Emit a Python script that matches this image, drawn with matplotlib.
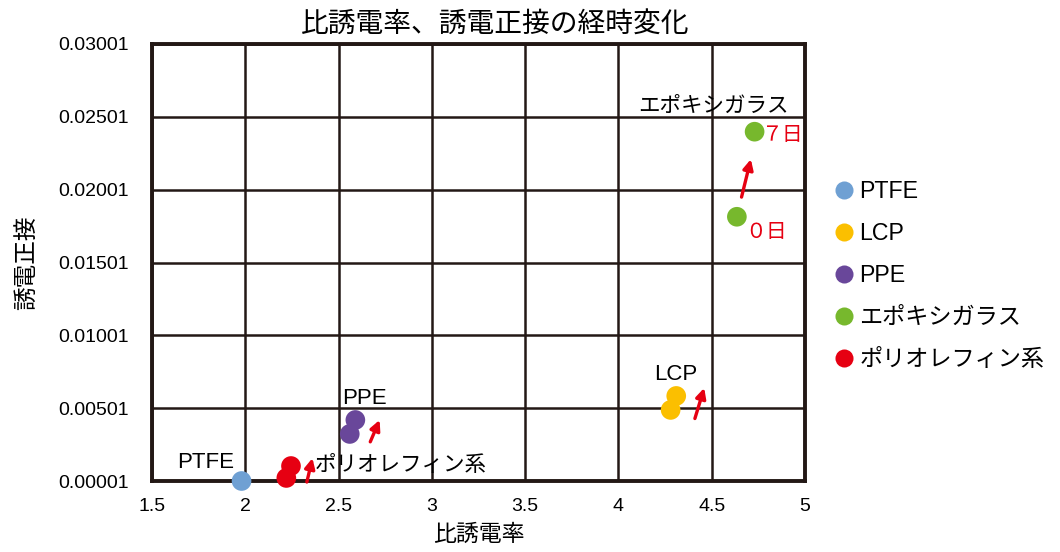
import matplotlib
matplotlib.use("Agg")
import matplotlib.pyplot as plt
from matplotlib.lines import Line2D

plt.rcParams['font.family'] = ['Liberation Sans', 'Noto Sans CJK JP', 'DejaVu Sans']

# data: (比誘電率, 誘電正接) at 0日 and 7日
names = ["PTFE", "LCP", "PPE", "エポキシガラス", "ポリオレフィン系"]
colors = ["#6fa0d3", "#fbbf00", "#69479a", "#77b82d", "#e60012"]
ptfe_x = [1.98]
ptfe_y = [0.00001]
lcp_x = [4.28, 4.31]
lcp_y = [0.00489, 0.00585]
ppe_x = [2.56, 2.59]
ppe_y = [0.00324, 0.00420]
epoxy_x = [4.635, 4.73]
epoxy_y = [0.01815, 0.02399]
poly_x = [2.22, 2.245]
poly_y = [0.00022, 0.00104]

series_x = [ptfe_x, lcp_x, ppe_x, epoxy_x, poly_x]
series_y = [ptfe_y, lcp_y, ppe_y, epoxy_y, poly_y]

xticks = [1.5, 2, 2.5, 3, 3.5, 4, 4.5, 5]
xtick_labels = ["1.5", "2", "2.5", "3", "3.5", "4", "4.5", "5"]
yticks = [0.00001, 0.00501, 0.01001, 0.01501, 0.02001, 0.02501, 0.03001]
ytick_labels = ["0.00001", "0.00501", "0.01001", "0.01501", "0.02001", "0.02501", "0.03001"]

# arrows (tail -> head) showing change over time
arrows = [((2.33, -0.00006), (2.36, 0.00158)),
          ((2.67, 0.00270), (2.72, 0.00420)),
          ((4.41, 0.00430), (4.46, 0.00640)),
          ((4.66, 0.01950), (4.71, 0.02210))]

fig = plt.figure(figsize=(10.6, 5.52), dpi=100)
ax = fig.add_axes([0.1434, 0.1286, 0.616, 0.7917])

for x, y, c in zip(series_x, series_y, colors):
    ax.scatter(x, y, s=200, color=c, edgecolors='none', zorder=5, clip_on=False)

for (x0, y0), (x1, y1) in arrows:
    ax.annotate("", xy=(x1, y1), xytext=(x0, y0),
                arrowprops=dict(arrowstyle='-|>,head_length=0.6,head_width=0.3',
                                color="#e60012", lw=2.4, shrinkA=0, shrinkB=0),
                zorder=6, annotation_clip=False)

ax.set_xlim(1.5, 5)
ax.set_ylim(0.00001, 0.03001)
ax.set_xticks(xticks)
ax.set_xticklabels(xtick_labels)
ax.set_yticks(yticks)
ax.set_yticklabels(ytick_labels)
ax.tick_params(axis='y', length=0, labelsize=14, pad=17)
ax.tick_params(axis='x', length=0, labelsize=14, pad=12)
ax.grid(True, color="#231815", lw=1.8)
ax.set_axisbelow(True)
for s in ax.spines.values():
    s.set_linewidth(2.8)
    s.set_color("#231815")

ax.set_title("比誘電率、誘電正接の経時変化", fontsize=20, pad=9, x=0.526)
ax.set_xlabel("比誘電率", fontsize=16.5, labelpad=6)
ax.set_ylabel("誘電正接", fontsize=17, labelpad=14)

# point labels
ax.text(1.79, 0.00127, "PTFE", fontsize=16, ha='center', va='center')
ax.text(2.37, 0.00110, "ポリオレフィン系", fontsize=15.5, ha='left', va='center')
ax.text(2.64, 0.00570, "PPE", fontsize=16, ha='center', va='center')
ax.text(4.31, 0.00731, "LCP", fontsize=16, ha='center', va='center')
ax.text(4.51, 0.02571, "エポキシガラス", fontsize=15.5, ha='center', va='center')
ax.text(4.77, 0.02370, "７日", fontsize=15, ha='left', va='center', color="#e60012")
ax.text(4.68, 0.01710, "０日", fontsize=15, ha='left', va='center', color="#e60012")

handles = [Line2D([], [], marker='o', ls='none', color=c, markersize=13, markeredgewidth=0)
           for c in colors]
fig.legend(handles, names, loc='upper left', bbox_to_anchor=(0.766, 0.712),
           frameon=False, fontsize=16.7, handletextpad=0.15, labelspacing=0.82,
           handlelength=1.0)

fig.savefig("out.png", dpi=100)
